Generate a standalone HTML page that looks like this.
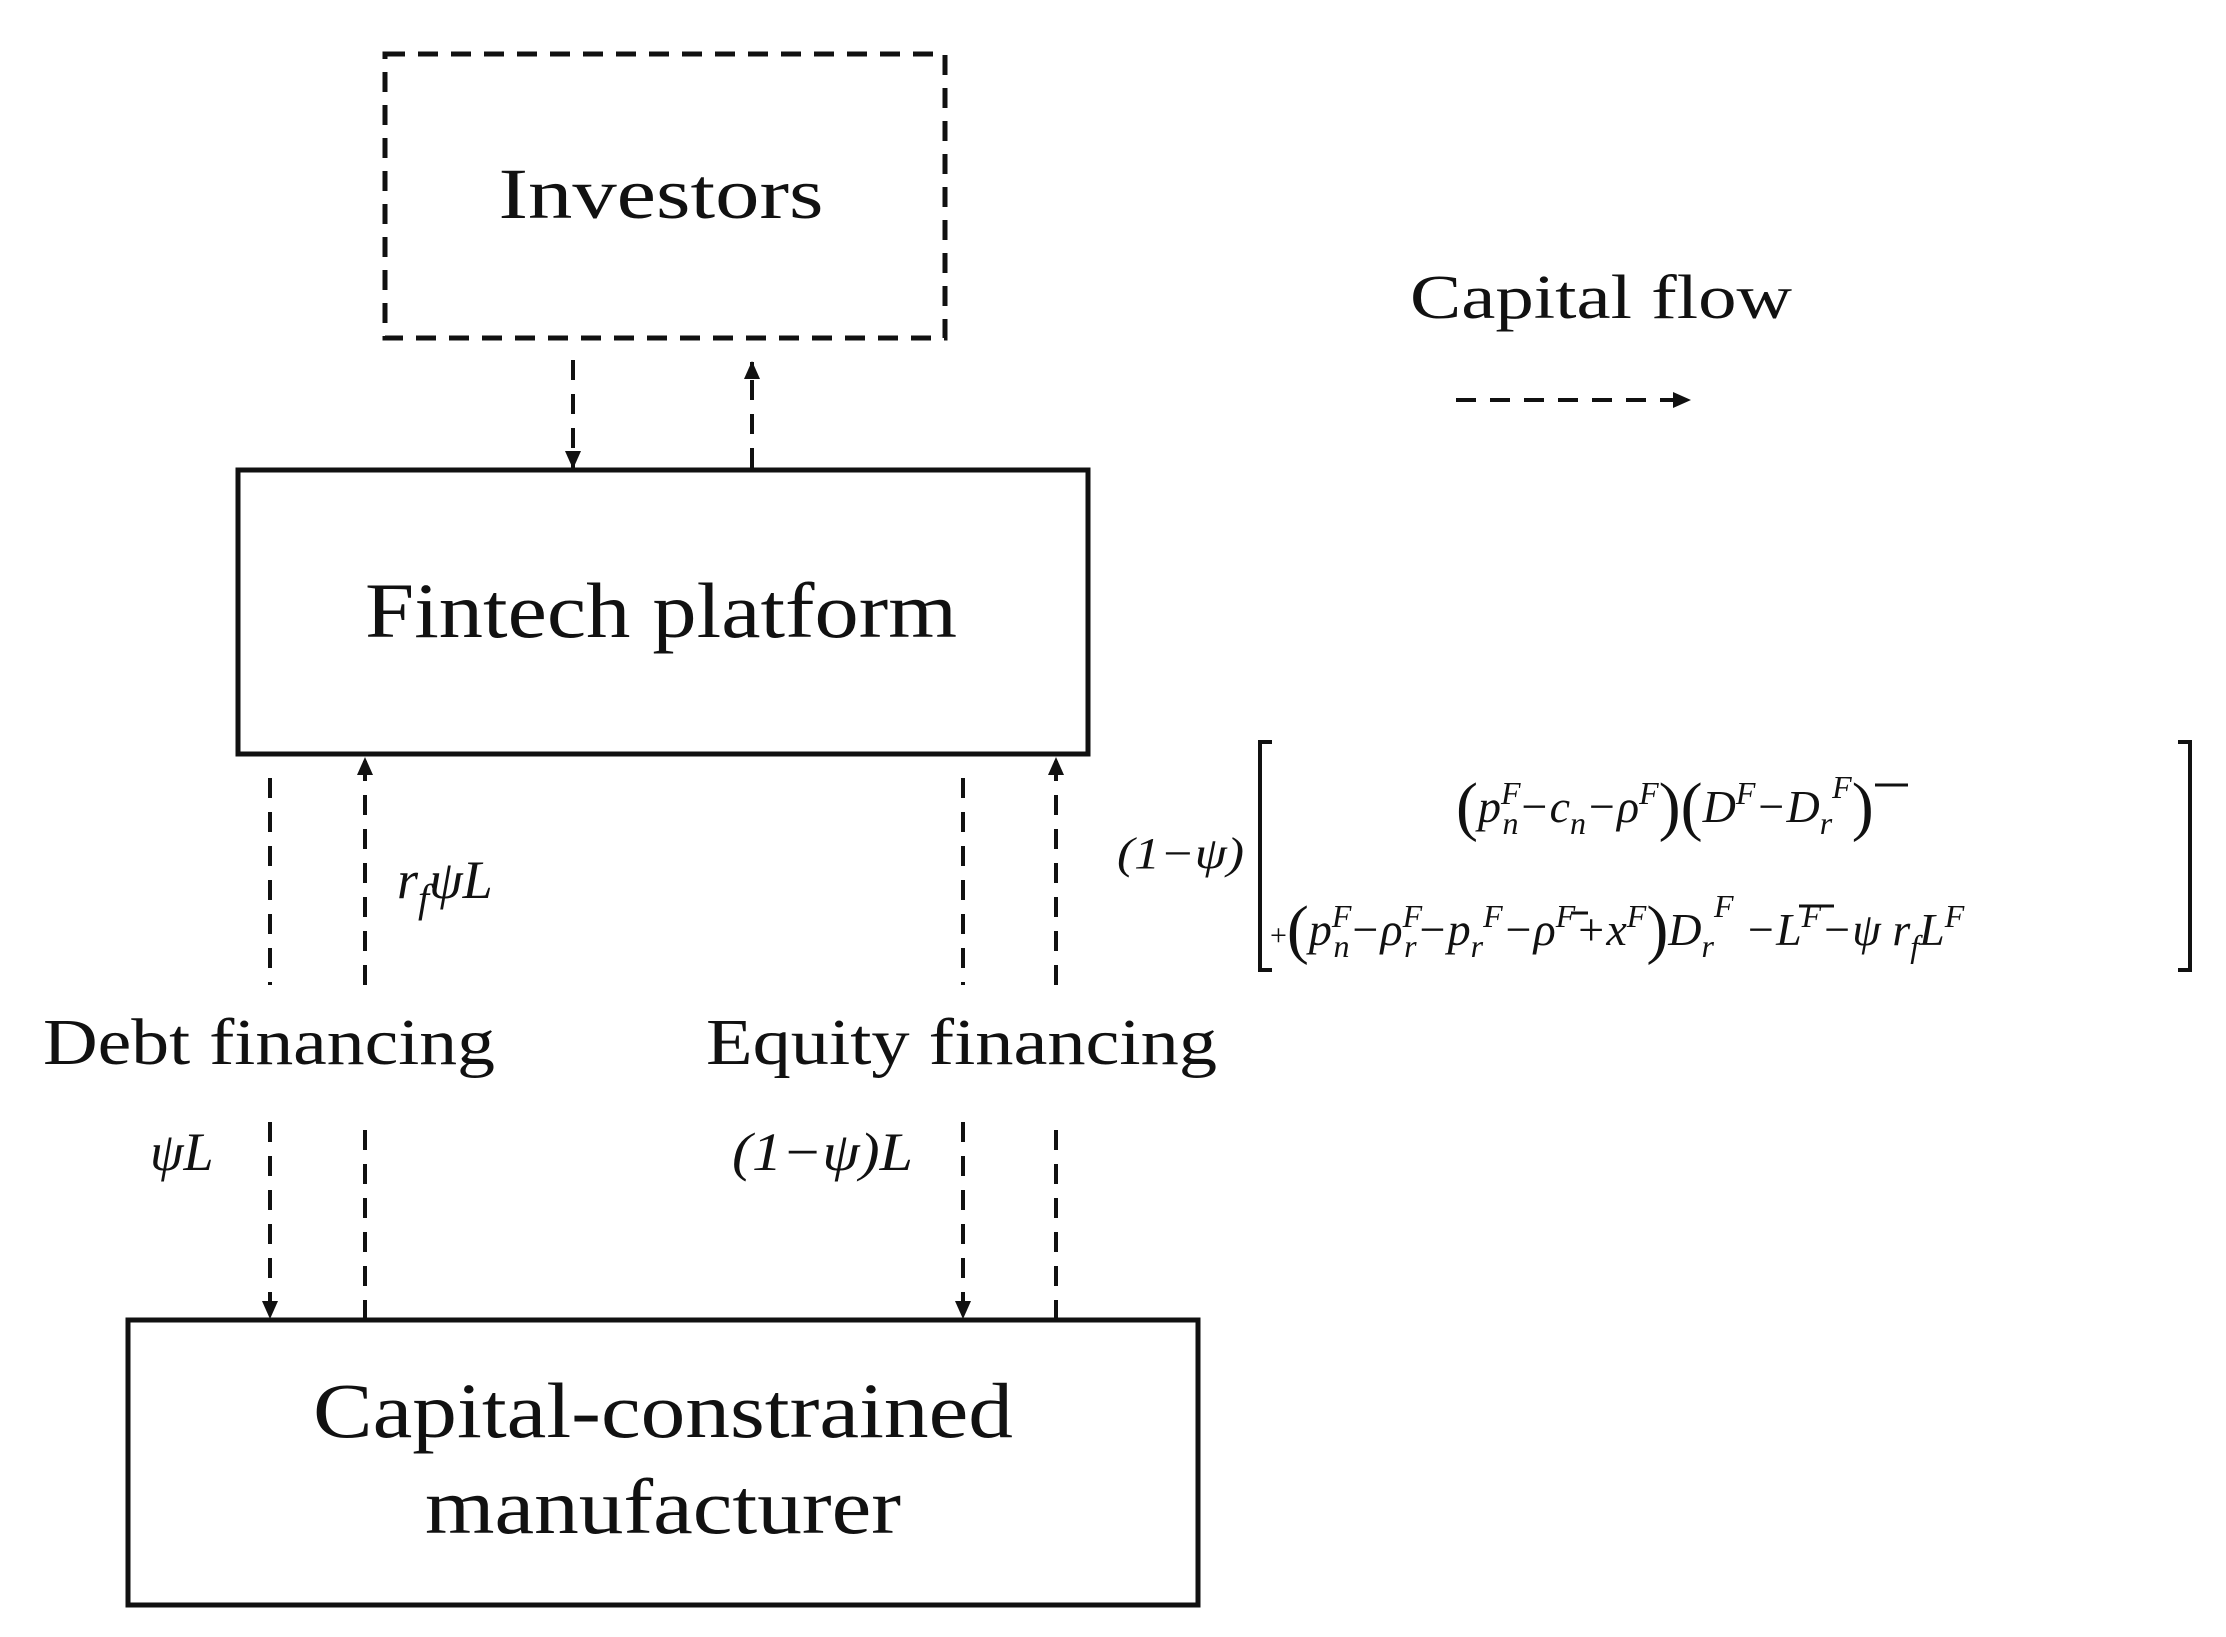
<!DOCTYPE html>
<html><head><meta charset="utf-8"><style>
html,body{margin:0;padding:0;background:#fff;}
svg{display:block;}
text{font-family:"Liberation Serif",serif;fill:#111;}
.it{font-style:italic;}
</style></head><body>
<svg width="2226" height="1637" viewBox="0 0 2226 1637" xmlns="http://www.w3.org/2000/svg">
<defs>
<marker id="ah" markerWidth="10" markerHeight="10" refX="9" refY="5" orient="auto" markerUnits="userSpaceOnUse" viewBox="0 0 10 10">
<path d="M0,0 L10,5 L0,10 z" fill="#111"/></marker>
<marker id="ahb" markerWidth="18" markerHeight="18" refX="17" refY="9" orient="auto" markerUnits="userSpaceOnUse" viewBox="0 0 18 18">
<path d="M0,1 L18,9 L0,17 z" fill="#111"/></marker>
</defs>
<g stroke="#111" fill="none">
<!-- Investors -->
<rect x="385" y="54" width="560" height="284" stroke-width="5" stroke-dasharray="20,13"/>
<!-- Fintech -->
<rect x="238" y="470" width="850" height="284" stroke-width="5"/>
<!-- Manufacturer -->
<rect x="128" y="1320" width="1070" height="285" stroke-width="5"/>
<g stroke-width="4" stroke-dasharray="20,14">
<line x1="573" y1="360" x2="573" y2="468" marker-end="url(#ahb)"/>
<line x1="752" y1="468" x2="752" y2="362" marker-end="url(#ahb)"/>
<line x1="270" y1="778" x2="270" y2="985"/>
<line x1="270" y1="1122" x2="270" y2="1318" marker-end="url(#ahb)"/>
<line x1="365" y1="985" x2="365" y2="758" marker-end="url(#ahb)"/>
<line x1="365" y1="1320" x2="365" y2="1120"/>
<line x1="963" y1="778" x2="963" y2="985"/>
<line x1="963" y1="1122" x2="963" y2="1318" marker-end="url(#ahb)"/>
<line x1="1056" y1="985" x2="1056" y2="758" marker-end="url(#ahb)"/>
<line x1="1056" y1="1320" x2="1056" y2="1120"/>
<line x1="1456" y1="400" x2="1690" y2="400" marker-end="url(#ahb)"/>
</g>
<!-- brackets -->
<path d="M1272,742 L1260,742 L1260,970 L1272,970" stroke-width="4"/>
<path d="M2178,742 L2190,742 L2190,970 L2178,970" stroke-width="4"/>
<!-- overlines -->
<line x1="1875" y1="785" x2="1908" y2="785" stroke-width="3"/>
<line x1="1799" y1="906" x2="1834" y2="906" stroke-width="3"/>
<line x1="1571" y1="913" x2="1588" y2="913" stroke-width="3"/>
</g>
<text x="661" y="218" font-size="72" text-anchor="middle" textLength="325" lengthAdjust="spacingAndGlyphs">Investors</text>
<text x="661" y="637" font-size="78" text-anchor="middle" textLength="592" lengthAdjust="spacingAndGlyphs">Fintech platform</text>
<text x="663" y="1437" font-size="78" text-anchor="middle" textLength="700" lengthAdjust="spacingAndGlyphs">Capital-constrained</text>
<text x="663" y="1533" font-size="78" text-anchor="middle" textLength="476" lengthAdjust="spacingAndGlyphs">manufacturer</text>
<text x="1410" y="318" font-size="62" textLength="382" lengthAdjust="spacingAndGlyphs">Capital  flow</text>
<text x="43" y="1064" font-size="66" textLength="452" lengthAdjust="spacingAndGlyphs">Debt financing</text>
<text x="706" y="1064" font-size="66" textLength="511" lengthAdjust="spacingAndGlyphs">Equity  financing</text>
<text class="it" x="397" y="898" font-size="54">r<tspan font-size="40" dy="14">f</tspan><tspan dy="-14">ψL</tspan></text>
<text class="it" x="150" y="1170" font-size="54">ψL</text>
<text class="it" x="732" y="1170" font-size="54" textLength="181" lengthAdjust="spacingAndGlyphs">(1−ψ)L</text>
<text class="it" x="1117" y="868" font-size="44" textLength="127" lengthAdjust="spacingAndGlyphs">(1−ψ)</text>
<text class="it" x="1456" y="822" font-size="46">
<tspan font-size="66" font-style="normal" dy="6">(</tspan><tspan dy="-6">p</tspan><tspan font-size="32" dy="-18">F</tspan><tspan font-size="32" dx="-18" dy="30">n</tspan><tspan dy="-12">−c</tspan><tspan font-size="32" dy="12">n</tspan><tspan dy="-12">−ρ</tspan><tspan font-size="32" dy="-18">F</tspan><tspan font-size="66" font-style="normal" dy="24">)(</tspan><tspan dy="-6">D</tspan><tspan font-size="32" dy="-18">F</tspan><tspan dy="18">−D</tspan><tspan font-size="32" dy="12">r</tspan><tspan font-size="32" dy="-36">F</tspan><tspan font-size="66" font-style="normal" dy="30">)</tspan></text>
<text class="it" x="1270" y="945" font-size="46">
<tspan font-size="30" font-style="normal">+</tspan><tspan font-size="66" font-style="normal" dy="6">(</tspan><tspan dy="-6">p</tspan><tspan font-size="32" dy="-18">F</tspan><tspan font-size="32" dx="-18" dy="30">n</tspan><tspan dy="-12">−ρ</tspan><tspan font-size="32" dy="-18">F</tspan><tspan font-size="32" dx="-18" dy="30">r</tspan><tspan dy="-12">−p</tspan><tspan font-size="32" dy="12">r</tspan><tspan font-size="32" dy="-30">F</tspan><tspan dy="18">−ρ</tspan><tspan font-size="32" dy="-18">F</tspan><tspan dy="18">+x</tspan><tspan font-size="32" dy="-18">F</tspan><tspan font-size="66" font-style="normal" dy="24">)</tspan><tspan dy="-6">D</tspan><tspan font-size="32" dy="12">r</tspan><tspan font-size="32" dy="-40">F</tspan><tspan dy="28"> −L</tspan><tspan font-size="32" dy="-18">F</tspan><tspan dy="18">−ψ r</tspan><tspan font-size="32" dy="12">f</tspan><tspan dy="-12">L</tspan><tspan font-size="32" dy="-18">F</tspan></text>
</svg>
</body></html>
